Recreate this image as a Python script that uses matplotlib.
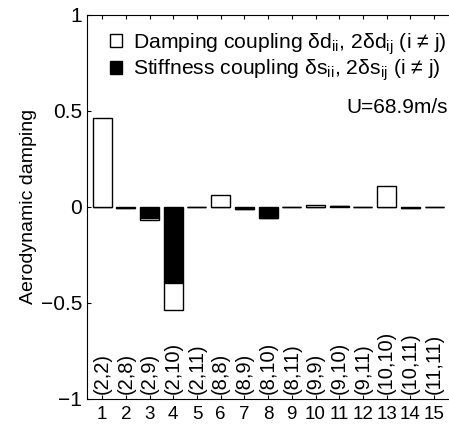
import matplotlib.pyplot as plt
from matplotlib.patches import Patch
import numpy as np

plt.rcParams['font.family'] = ['Liberation Sans', 'DejaVu Sans']
plt.rcParams['mathtext.fontset'] = 'custom'
plt.rcParams['mathtext.rm'] = 'Liberation Sans'
plt.rcParams['mathtext.it'] = 'Liberation Sans'

# bar index and the (i,j) mode pair for each one
bar_ids = list(range(1, 16))
pairs = ['(2,2)', '(2,8)', '(2,9)', '(2,10)', '(2,11)', '(8,8)', '(8,9)', '(8,10)',
         '(8,11)', '(9,9)', '(9,10)', '(9,11)', '(10,10)', '(10,11)', '(11,11)']

# stiffness part drawn first (black), damping part stacked on it (white)
stiffness = [0.0, -0.004, -0.058, -0.397, 0.0, 0.0, -0.010, -0.058,
             0.0, 0.0, 0.006, 0.0, 0.0, -0.004, -0.002]
damping = [0.464, 0.0, -0.008, -0.138, 0.002, 0.060, 0.0, 0.0,
           0.001, 0.009, 0.0, 0.001, 0.110, 0.0, 0.0]

fig = plt.figure(figsize=(4.49, 4.24), dpi=100)
ax = fig.add_axes([0.194, 0.059, 0.806, 0.906])

stiffness = np.array(stiffness)
damping = np.array(damping)
ax.bar(bar_ids, stiffness, width=0.8, color='black', edgecolor='black', linewidth=1.0)
ax.bar(bar_ids, damping, width=0.8, bottom=stiffness, color='white', edgecolor='black', linewidth=1.0)

for x, lab in zip(bar_ids, pairs):
    ax.text(x, -0.975, lab, rotation=90, ha='center', va='bottom', fontsize=14.5)

ax.set_xlim(0.367, 15.63)
ax.set_ylim(-1, 1)
ax.set_xticks(bar_ids)
ax.set_yticks([-1, -0.5, 0, 0.5, 1])
ax.set_yticklabels(['\u22121', '\u22120.5', '0', '0.5', '1'])
ax.spines['right'].set_visible(False)
ax.tick_params(direction='in', labelsize=15, top=True, length=3)
ax.tick_params(axis='x', pad=5, labelsize=13.5)
ax.set_ylabel('Aerodynamic damping', fontsize=14, labelpad=3)

handles = [Patch(facecolor='white', edgecolor='black', linewidth=1.0),
           Patch(facecolor='black', edgecolor='black', linewidth=1.0)]
labels = ['Damping coupling $\\mathrm{\u03b4d_{ii}}$, 2$\\mathrm{\u03b4d_{ij}}$ (i \u2260 j)',
          'Stiffness coupling $\\mathrm{\u03b4s_{ii}}$, 2$\\mathrm{\u03b4s_{ij}}$ (i \u2260 j)']
ax.legend(handles, labels, loc='center right', bbox_to_anchor=(1.0, 0.89),
          frameon=False, fontsize=15.2,
          handlelength=0.55, handleheight=0.55, handletextpad=0.55,
          borderaxespad=0.0, borderpad=0.1, labelspacing=0.05)
ax.text(0.997, 0.758, 'U=68.9m/s', transform=ax.transAxes, ha='right', va='center', fontsize=15)

fig.savefig('out.png', dpi=100)
